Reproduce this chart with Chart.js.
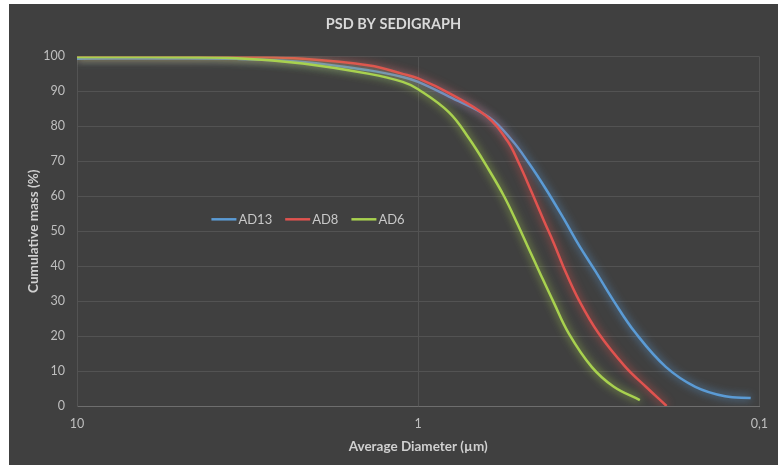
<!DOCTYPE html>
<html>
<head>
<meta charset="utf-8">
<script src="https://cdn.jsdelivr.net/npm/chart.js@4/dist/chart.umd.min.js"></script>
<style>
    body { margin: 0; background: #ffffff; }
    #wrap { position: absolute; left: 9px; top: 4px; width: 769px; height: 461px; background: #404040; }
</style>
</head>
<body>
<div id="wrap"><canvas id="psdChart"></canvas></div>
<script>
// values
const seriesNames = ['AD13', 'AD8', 'AD6'];
const seriesColors = ['#5b9bd5', '#e0534f', '#a8d14f'];

const ad13Diameter = [10, 6.12, 3.40, 2.18, 1.39, 1.11, 1.0, 0.812, 0.620, 0.531, 0.474, 0.422, 0.374, 0.338, 0.302, 0.267, 0.231, 0.188, 0.154, 0.126, 0.106];
const ad13Mass = [99.3, 99.4, 99.3, 98.4, 96, 94.1, 92.7, 88.5, 82.6, 76, 69.5, 62, 53.5, 46, 38.5, 30, 21, 11.2, 5.5, 2.8, 2.3];

const ad8Diameter = [10, 6.12, 3.40, 2.18, 1.39, 1.11, 1.0, 0.812, 0.633, 0.549, 0.507, 0.464, 0.428, 0.400, 0.374, 0.338, 0.296, 0.247, 0.215, 0.187];
const ad8Mass = [99.9, 99.9, 99.9, 99.3, 97.4, 95, 93.7, 89.5, 83, 76, 69.5, 61, 53, 46.5, 39.5, 30.3, 20.8, 11.2, 5.5, 0];

const ad6Diameter = [10, 6.12, 3.40, 2.18, 1.39, 1.11, 1.0, 0.812, 0.709, 0.620, 0.560, 0.514, 0.474, 0.437, 0.400, 0.362, 0.310, 0.267, 0.224];
const ad6Mass = [99.8, 99.8, 99.5, 98, 95, 92.7, 90.6, 84, 76.5, 67.5, 60, 52.5, 45, 37.5, 29.5, 20.8, 11.2, 5.5, 1.7];

const xTickValues = [10, 1, 0.1];
const xTickLabels = ['10', '1', '0,1'];

const diameters = [ad13Diameter, ad8Diameter, ad6Diameter];
const masses = [ad13Mass, ad8Mass, ad6Mass];

const fontName = 'Lato, "Open Sans", sans-serif';

// soft glow under each line
const glowPlugin = {
    id: 'glow',
    beforeDatasetDraw(chart, args) {
        const ctx = chart.ctx;
        ctx.save();
        ctx.shadowColor = seriesColors[args.index];
        ctx.shadowBlur = 8;
    },
    afterDatasetDraw(chart) {
        chart.ctx.restore();
    }
};

// legend sits inside the plot, left of middle
const innerLegend = {
    id: 'innerLegend',
    afterDraw(chart) {
        const ctx = chart.ctx;
        const area = chart.chartArea;
        let x = area.left + area.width * 0.197;
        const y = area.top + area.height * 0.466;
        ctx.save();
        ctx.font = '13px ' + fontName;
        ctx.textBaseline = 'middle';
        ctx.textAlign = 'left';
        for (let i = 0; i < seriesNames.length; i++) {
            ctx.strokeStyle = seriesColors[i];
            ctx.lineWidth = 2.5;
            ctx.beginPath();
            ctx.moveTo(x, y);
            ctx.lineTo(x + 25, y);
            ctx.stroke();
            ctx.fillStyle = '#c8c8c8';
            ctx.fillText(seriesNames[i], x + 27, y);
            x += 27 + ctx.measureText(seriesNames[i]).width + 13;
        }
        ctx.restore();
    }
};

const datasets = [];
for (let i = 0; i < seriesNames.length; i++) {
    datasets.push({
        label: seriesNames[i],
        data: diameters[i].map((d, j) => ({ x: d, y: masses[i][j] })),
        borderColor: seriesColors[i],
        backgroundColor: seriesColors[i],
        borderWidth: 2.5,
        pointRadius: 0,
        tension: 0.4,
        order: seriesNames.length - 1 - i
    });
}

let ctx = document.getElementById('psdChart');

new Chart(ctx, {
    type: 'line',
    data: { datasets: datasets },
    options: {
        responsive: true,
        maintainAspectRatio: false,
        animation: false,
        layout: { padding: 0 },
        plugins: {
            legend: { display: false },
            tooltip: { enabled: false },
            title: {
                display: true,
                text: 'PSD BY SEDIGRAPH',
                color: '#d9d9d9',
                font: { family: fontName, size: 14.5, weight: 'bold' },
                padding: { top: 12, bottom: 23 }
            }
        },
        scales: {
            x: {
                type: 'logarithmic',
                reverse: true,
                min: 0.1,
                max: 10,
                afterBuildTicks: (scale) => {
                    scale.ticks = xTickValues.map(v => ({ value: v }));
                },
                afterFit: (scale) => { scale.height = 59; },
                ticks: {
                    color: '#bfbfbf',
                    font: { family: fontName, size: 12.5 },
                    padding: 10,
                    maxRotation: 0,
                    autoSkip: false,
                    callback: (value) => xTickLabels[xTickValues.indexOf(value)]
                },
                grid: { color: '#535353', drawTicks: false },
                border: { color: '#6e6e6e' },
                title: {
                    display: true,
                    text: 'Average Diameter (µm)',
                    color: '#d0d0d0',
                    font: { family: fontName, size: 13.5, weight: 'bold' },
                    padding: { top: 0, bottom: 10 }
                }
            },
            y: {
                min: 0,
                max: 100,
                afterFit: (scale) => { scale.width = 68; },
                ticks: {
                    stepSize: 10,
                    color: '#bfbfbf',
                    font: { family: fontName, size: 12.5 },
                    padding: 12
                },
                grid: { color: '#535353', drawTicks: false },
                border: { color: '#535353' },
                title: {
                    display: true,
                    text: 'Cumulative mass (%)',
                    color: '#d0d0d0',
                    font: { family: fontName, size: 13.5, weight: 'bold' },
                    padding: { top: 17, bottom: 0 }
                }
            },
            // empty strip on the right so the title centres over the whole card
            spacer: {
                type: 'linear',
                position: 'right',
                afterFit: (scale) => { scale.width = 17; },
                ticks: { display: false },
                grid: { display: false },
                border: { display: false }
            }
        }
    },
    plugins: [glowPlugin, innerLegend]
});
</script>
</body>
</html>
